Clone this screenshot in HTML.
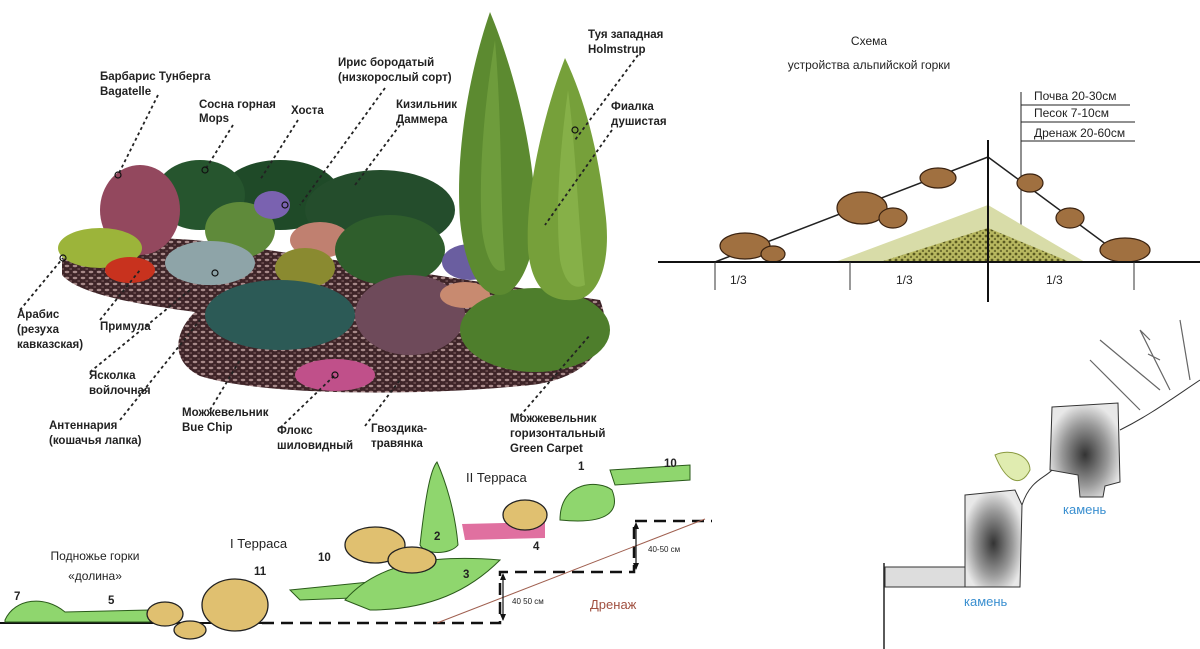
<!DOCTYPE html>
<html><head><meta charset="utf-8"><style>
html,body{margin:0;padding:0;background:#fff;}
svg{display:block}
.l{font-family:"Liberation Sans Narrow","Liberation Sans",sans-serif;font-weight:bold;font-size:11.5px;fill:#222}
.t{font-family:"Liberation Sans",sans-serif;font-size:12px;fill:#222}
.d{stroke:#222;stroke-width:1.8;stroke-dasharray:3,3;fill:none}
</style></head><body>
<svg width="1200" height="649" viewBox="0 0 1200 649" xmlns="http://www.w3.org/2000/svg">
<defs>
<radialGradient id="st" cx="50%" cy="55%" r="55%"><stop offset="0" stop-color="#333"/><stop offset="0.6" stop-color="#999"/><stop offset="1" stop-color="#e8e8e8"/></radialGradient>
<pattern id="peb" width="8" height="6" patternUnits="userSpaceOnUse"><rect width="8" height="6" fill="#3e2428"/><ellipse cx="3" cy="2" rx="2.3" ry="1.2" fill="#a88a8a"/><ellipse cx="7" cy="5" rx="1.8" ry="0.9" fill="#6e5052"/></pattern>
<pattern id="grv" width="6" height="6" patternUnits="userSpaceOnUse"><rect width="6" height="6" fill="#b8b860"/><circle cx="2" cy="2" r="1.4" fill="#5a5a20"/><circle cx="5" cy="5" r="1.2" fill="#707030"/></pattern>
</defs>

<!-- garden base -->
<path d="M62,262 C70,238 150,232 235,245 L600,300 C616,340 592,382 520,386 C420,396 262,396 200,376 C168,360 176,330 195,312 C150,306 80,296 62,275 Z" fill="url(#peb)"/>
<!-- shrubs -->
<ellipse cx="280" cy="195" rx="60" ry="35" fill="#1f4a28"/>
<ellipse cx="200" cy="195" rx="45" ry="35" fill="#26552e"/>
<ellipse cx="380" cy="210" rx="75" ry="40" fill="#244d2c"/>
<ellipse cx="140" cy="210" rx="40" ry="45" fill="#93485e"/>
<ellipse cx="100" cy="248" rx="42" ry="20" fill="#9cb43a"/>
<ellipse cx="130" cy="270" rx="25" ry="13" fill="#c8321e"/>
<ellipse cx="240" cy="230" rx="35" ry="28" fill="#5f8a3a"/>
<ellipse cx="272" cy="205" rx="18" ry="14" fill="#7a62b0"/>
<ellipse cx="210" cy="263" rx="45" ry="22" fill="#8ea4a8"/>
<ellipse cx="320" cy="240" rx="30" ry="18" fill="#c08070"/>
<ellipse cx="305" cy="268" rx="30" ry="20" fill="#8a8a30"/>
<ellipse cx="390" cy="250" rx="55" ry="35" fill="#2f5e2c"/>
<ellipse cx="470" cy="262" rx="28" ry="18" fill="#6a5ea0"/>
<ellipse cx="280" cy="315" rx="75" ry="35" fill="#2c5a56"/>
<ellipse cx="410" cy="315" rx="55" ry="40" fill="#6e4a5a"/>
<ellipse cx="465" cy="295" rx="25" ry="13" fill="#c88a70"/>
<ellipse cx="535" cy="330" rx="75" ry="42" fill="#4e7e2c"/>
<ellipse cx="335" cy="375" rx="40" ry="16" fill="#c0508a"/>
<!-- cypresses -->
<path d="M490,12 C470,70 455,150 460,220 C465,270 480,295 500,295 C520,295 540,250 535,200 C530,130 510,60 490,12 Z" fill="#5c8a30"/>
<path d="M495,40 C485,100 478,170 482,230 C486,260 495,275 505,270 C500,200 502,120 495,40Z" fill="#6e9c3c"/>
<path d="M565,58 C545,110 525,190 528,250 C532,290 550,302 575,300 C600,298 612,260 605,210 C598,150 585,100 565,58 Z" fill="#76a03a"/>
<path d="M568,90 C560,150 555,210 560,260 C565,285 575,290 585,285 C578,220 576,150 568,90Z" fill="#86b048"/>

<!-- leaders -->
<path class="d" d="M158,95 L118,175"/><path class="d" d="M233,125 L205,170"/><path class="d" d="M298,120 L260,180"/>
<path class="d" d="M385,88 L300,205"/><path class="d" d="M400,125 L355,185"/><path class="d" d="M638,55 L575,140"/>
<path class="d" d="M612,130 L545,225"/><path class="d" d="M20,310 L63,258"/><path class="d" d="M100,320 L140,270"/>
<path class="d" d="M90,372 L190,290"/><path class="d" d="M120,420 L200,320"/><path class="d" d="M210,410 L240,360"/>
<path class="d" d="M280,428 L335,375"/><path class="d" d="M365,426 L400,380"/><path class="d" d="M520,416 L590,335"/>
<g fill="none" stroke="#111" stroke-width="1.2"><circle cx="118" cy="175" r="3"/><circle cx="205" cy="170" r="3"/><circle cx="63" cy="258" r="3"/><circle cx="575" cy="130" r="3"/><circle cx="335" cy="375" r="3"/><circle cx="215" cy="273" r="3"/><circle cx="285" cy="205" r="3"/></g>

<!-- garden labels -->
<g class="l">
<text x="100" y="80">Барбарис Тунберга</text><text x="100" y="95">Bagatelle</text>
<text x="199" y="108">Сосна горная</text><text x="199" y="122">Mops</text>
<text x="291" y="114">Хоста</text>
<text x="338" y="66">Ирис бородатый</text><text x="338" y="81">(низкорослый сорт)</text>
<text x="396" y="108">Кизильник</text><text x="396" y="123">Даммера</text>
<text x="588" y="38">Туя западная</text><text x="588" y="53">Holmstrup</text>
<text x="611" y="110">Фиалка</text><text x="611" y="125">душистая</text>
<text x="17" y="318">Арабис</text><text x="17" y="333">(резуха</text><text x="17" y="348">кавказская)</text>
<text x="100" y="330">Примула</text>
<text x="89" y="379">Ясколка</text><text x="89" y="394">войлочная</text>
<text x="49" y="429">Антеннария</text><text x="49" y="444">(кошачья лапка)</text>
<text x="182" y="416">Можжевельник</text><text x="182" y="431">Bue Chip</text>
<text x="277" y="434">Флокс</text><text x="277" y="449">шиловидный</text>
<text x="371" y="432">Гвоздика-</text><text x="371" y="447">травянка</text>
<text x="510" y="422">Можжевельник</text><text x="510" y="437">горизонтальный</text><text x="510" y="452">Green Carpet</text>
</g>

<!-- terrace diagram -->
<line x1="0" y1="623" x2="262" y2="623" stroke="#111" stroke-width="2"/>
<path d="M262,623 H500 V572 H634 V521 H712" fill="none" stroke="#111" stroke-width="2.5" stroke-dasharray="12,7"/>
<line x1="437" y1="623" x2="705" y2="519" stroke="#a06050" stroke-width="1"/>
<g stroke="#111" stroke-width="1.2"><line x1="503" y1="575" x2="503" y2="620"/><line x1="636" y1="524" x2="636" y2="569"/></g>
<g fill="#111"><path d="M503,573 l-3,7 h6z"/><path d="M503,621 l-3,-7 h6z"/><path d="M636,522 l-3,7 h6z"/><path d="M636,570 l-3,-7 h6z"/></g>
<g fill="#8fd66e" stroke="#2a5a1a" stroke-width="1">
<path d="M5,620 C15,598 45,595 65,612 L150,610 L150,622 L5,622Z"/>
<path d="M290,590 L440,575 L430,595 L300,600Z"/>
<path d="M345,600 C380,560 440,555 500,560 C470,590 430,610 370,610Z"/>
<path d="M420,545 C425,500 430,470 437,462 C445,480 455,510 458,545 C450,555 425,555 420,545Z"/>
<path d="M560,520 C560,480 600,480 612,490 C620,510 610,525 560,520Z"/>
<path d="M610,470 L690,465 L690,480 L615,485Z"/>
</g>
<path d="M462,524 L545,522 L545,538 L465,540Z" fill="#e070a0"/>
<g fill="#e0c070" stroke="#222" stroke-width="1.3">
<ellipse cx="165" cy="614" rx="18" ry="12"/><ellipse cx="190" cy="630" rx="16" ry="9"/>
<ellipse cx="235" cy="605" rx="33" ry="26"/><ellipse cx="375" cy="545" rx="30" ry="18"/>
<ellipse cx="412" cy="560" rx="24" ry="13"/><ellipse cx="525" cy="515" rx="22" ry="15"/>
</g>
<g class="t"><text x="95" y="560" text-anchor="middle">Подножье горки</text><text x="95" y="580" text-anchor="middle">«долина»</text>
<text x="230" y="548" font-size="13">I Терраса</text><text x="466" y="482" font-size="13">II Терраса</text>
<text x="590" y="609" fill="#a05040" font-size="13">Дренаж</text>
<text x="512" y="604" font-size="8">40 50 см</text><text x="648" y="552" font-size="8">40-50 см</text></g>
<g class="l" font-size="11"><text x="578" y="470">1</text><text x="664" y="467">10</text><text x="434" y="540">2</text><text x="533" y="550">4</text><text x="463" y="578">3</text><text x="318" y="561">10</text><text x="254" y="575">11</text><text x="14" y="600">7</text><text x="108" y="604">5</text></g>

<!-- scheme top right -->
<g class="t" font-size="12.5"><text x="869" y="45" text-anchor="middle">Схема</text><text x="869" y="69" text-anchor="middle">устройства альпийской горки</text>
<text x="1034" y="100">Почва 20-30см</text><text x="1034" y="117">Песок 7-10см</text><text x="1034" y="137">Дренаж 20-60см</text></g>
<g stroke="#222" fill="none"><line x1="1021" y1="92" x2="1021" y2="262" stroke-width="1"/><line x1="1021" y1="105" x2="1130" y2="105"/><line x1="1021" y1="122" x2="1135" y2="122"/><line x1="1021" y1="141" x2="1135" y2="141"/></g>
<path d="M835,262 L988,205 L1085,262Z" fill="#d8dca8"/>
<path d="M880,262 L988,228 L1070,262Z" fill="url(#grv)"/>
<path d="M715,262 L988,157 L1130,262" fill="none" stroke="#222" stroke-width="1.5"/>
<g fill="#a07040" stroke="#3a2210" stroke-width="1.2">
<ellipse cx="745" cy="246" rx="25" ry="13"/><ellipse cx="773" cy="254" rx="12" ry="8"/>
<ellipse cx="862" cy="208" rx="25" ry="16"/><ellipse cx="893" cy="218" rx="14" ry="10"/>
<ellipse cx="938" cy="178" rx="18" ry="10"/><ellipse cx="1030" cy="183" rx="13" ry="9"/>
<ellipse cx="1070" cy="218" rx="14" ry="10"/><ellipse cx="1125" cy="250" rx="25" ry="12"/>
</g>
<line x1="658" y1="262" x2="1200" y2="262" stroke="#111" stroke-width="2"/>
<g stroke="#333" stroke-width="1"><line x1="715" y1="262" x2="715" y2="290"/><line x1="850" y1="262" x2="850" y2="290"/><line x1="1134" y1="262" x2="1134" y2="290"/></g>
<line x1="988" y1="140" x2="988" y2="302" stroke="#111" stroke-width="2"/>
<g class="t"><text x="730" y="284">1/3</text><text x="896" y="284">1/3</text><text x="1046" y="284">1/3</text></g>

<!-- stones bottom right -->
<path d="M884,563 V649" stroke="#222" stroke-width="1.5"/>
<rect x="885" y="567" width="80" height="20" fill="#ddd" stroke="#333"/>
<path d="M965,495 L1015,490 L1022,505 L1020,587 L965,587Z" fill="url(#st)" stroke="#333"/>
<path d="M1052,407 L1118,403 L1120,482 L1105,486 L1103,497 L1080,497 L1078,475 L1050,470Z" fill="url(#st)" stroke="#333"/>
<path d="M1022,505 C1030,480 1045,478 1052,470" fill="none" stroke="#333"/>
<path d="M1120,430 C1150,415 1170,400 1200,380" fill="none" stroke="#333"/>
<g stroke="#666" stroke-width="1.2" fill="none"><path d="M1090,360 L1140,410 M1100,340 L1160,390 M1140,330 L1170,390 M1180,320 L1190,380 M1150,340 l-10,-10 M1160,360 l-12,-6"/></g>
<path d="M995,455 C1010,448 1030,455 1030,470 C1020,490 1005,480 995,455Z" fill="#e0ecb0" stroke="#8a9a40"/>
<g font-family="Liberation Sans,sans-serif" font-size="13" fill="#3a8fd0"><text x="964" y="606">камень</text><text x="1063" y="514">камень</text></g>
</svg>
</body></html>
